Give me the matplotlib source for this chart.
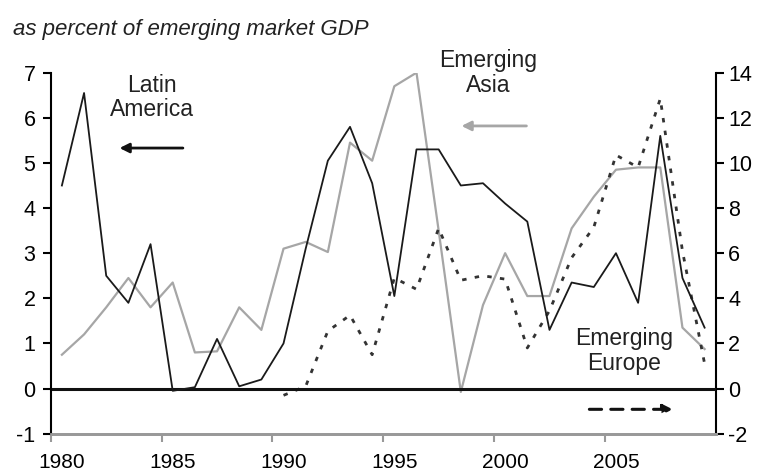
import numpy as np
import matplotlib
matplotlib.use("Agg")
from matplotlib import pyplot as plt

plt.rcParams['font.family'] = ['Liberation Sans', 'DejaVu Sans']
plt.rcParams['axes.unicode_minus'] = False

# data (annual, plotted at mid-year)
years = list(range(1980, 2010))
latin_america = [4.5, 6.55, 2.5, 1.9, 3.2, -0.05, 0.03, 1.1, 0.05, 0.2,
                 1.0, 3.1, 5.05, 5.8, 4.55, 2.05, 5.3, 5.3, 4.5, 4.55,
                 4.1, 3.7, 1.3, 2.35, 2.25, 3.0, 1.9, 5.6, 2.45, 1.35]
emerging_asia = [1.5, 2.4, 3.6, 4.9, 3.6, 4.7, 1.6, 1.65, 3.6, 2.6,
                 6.2, 6.5, 6.05, 10.9, 10.1, 13.4, 14.0, 7.0, -0.15, 3.7,
                 6.0, 4.1, 4.1, 7.1, 8.5, 9.7, 9.8, 9.8, 2.7, 1.75]
europe_years = list(range(1990, 2010))
emerging_europe = [-0.3, 0.1, 2.55, 3.25, 1.5, 4.9, 4.4, 7.1, 4.8, 5.0,
                   4.85, 1.8, 3.45, 5.8, 7.15, 10.35, 9.8, 12.85, 6.1, 1.1]

x_la = np.array(years) + 0.5
x_eu = np.array(europe_years) + 0.5
tick_years = [1980, 1985, 1990, 1995, 2000, 2005]

fig = plt.figure(figsize=(7.63, 4.76), dpi=100)
ax = fig.add_axes([0.0666, 0.0889, 0.8714, 0.7584])
ax2 = ax.twinx()

ax.set_xlim(1980, 2010)
ax.set_ylim(-1, 7)
ax2.set_ylim(-2, 14)

# zero line
ax.axhline(0, color='#111111', lw=2.2, zorder=1)

ax2.plot(x_la, emerging_asia, color='#a6a6a6', lw=1.6, zorder=2)
ax2.plot(x_eu, emerging_europe, color='#333333', lw=2.0,
         linestyle=(0, (1.6, 3)), zorder=3)
ax.plot(x_la, latin_america, color='#1a1a1a', lw=1.3, zorder=4)
ax.set_zorder(ax2.get_zorder() + 1)
ax.patch.set_visible(False)

for a in (ax, ax2):
    a.spines['top'].set_visible(False)
    a.spines['bottom'].set_color('#999999')
    a.spines['bottom'].set_linewidth(2)
ax.spines['right'].set_visible(False)
ax2.spines['left'].set_visible(False)
ax.spines['left'].set_linewidth(1.5)
ax2.spines['right'].set_linewidth(1.5)

fs = 15.5
ax.set_yticks(range(-1, 8))
ax2.set_yticks(range(-2, 15, 2))
ax.tick_params(axis='y', direction='out', length=6, width=1.5,
               labelsize=fs, pad=5)
ax2.tick_params(axis='y', direction='out', length=6, width=1.5,
                labelsize=fs, pad=3)

ax.set_xticks(tick_years)
ax.set_xticklabels([])
ax.set_xticks([y + 0.5 for y in tick_years], minor=True)
ax.set_xticklabels([str(y) for y in tick_years], minor=True)
ax.tick_params(axis='x', which='major', direction='out', length=6,
               width=1.5, color='#999999')
ax.tick_params(axis='x', which='minor', length=0, labelsize=15, pad=14)

fig.text(0.017, 0.937, 'as percent of emerging market GDP',
         fontsize=16, style='italic', va='center', ha='left',
         color='#222222')

afs = 16.5
ax.text(1984.55, 6.45, 'Latin\nAmerica', fontsize=afs, ha='center',
        va='center', linespacing=1.1, color='#222222')
ax.annotate('', xy=(1983.1, 5.33), xytext=(1985.96, 5.33),
            arrowprops=dict(arrowstyle='-|>', color='#111111', lw=2,
                            mutation_scale=14, shrinkA=0, shrinkB=0))
ax.text(1999.73, 7.0, 'Emerging\nAsia', fontsize=afs, ha='center',
        va='center', linespacing=1.1, color='#222222', clip_on=False)
ax.annotate('', xy=(1998.53, 5.82), xytext=(2001.46, 5.82),
            arrowprops=dict(arrowstyle='-|>', color='#a6a6a6', lw=2,
                            mutation_scale=14, shrinkA=0, shrinkB=0))
ax.text(2005.85, 0.84, 'Emerging\nEurope', fontsize=afs, ha='center',
        va='center', linespacing=1.1, color='#222222')
ax.annotate('', xy=(2008.06, -0.46), xytext=(2004.3, -0.46),
            arrowprops=dict(arrowstyle='-|>', color='#111111', lw=2.2,
                            linestyle=(0, (4, 3)),
                            mutation_scale=14, shrinkA=0, shrinkB=0))

fig.savefig('out.png', dpi=100)
